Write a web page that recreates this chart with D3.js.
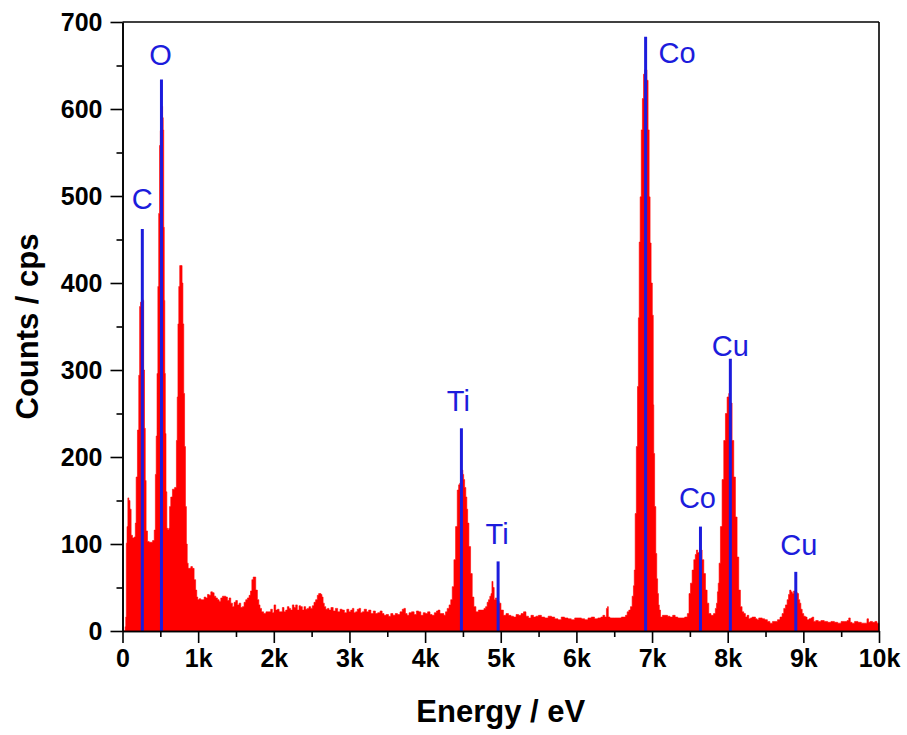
<!DOCTYPE html>
<html>
<head>
<meta charset="utf-8">
<title>EDS spectrum</title>
<script src="https://cdn.jsdelivr.net/npm/d3@7"></script>
<style>
  html, body { margin: 0; padding: 0; background: #fff; }
  svg { display: block; font-family: "Liberation Sans", Arial, sans-serif; }
</style>
</head>
<body>
<svg id="chart" width="907" height="735"></svg>
<script>
// Spectrum as [energy (eV), counts (cps)] pairs, split by energy range.
const spectrumLow = [
  [0,0],[30,0],[40,5],[46,16],[55,101],[65,120],[77,153],[90,150],[108,140],[120,110],
  [143,107],[165,108],[174,124],[187,177],[208,231],[222,294],[231,373],[245,378],[262,382],
  [275,380],[285,300],[297,233],[305,173],[319,115],[341,103],[363,102],[385,102],[410,104],
  [429,116],[440,180],[451,224],[462,296],[473,396],[484,480],[495,558],[505,575],[515,595],
  [526,603],[535,590],[542,576],[548,464],[556,380],[562,296],[570,227],[580,160],[592,118],
  [605,116],[618,118],[627,143],[649,154],[671,163],[706,165],[719,219],[728,269],[738,353],
  [750,396],[763,420],[781,420],[794,400],[803,353],[816,273],[825,212],[839,143],[850,100],
  [861,78],[875,72],[892,72],[914,74],[935,72],[958,59],[975,47],[988,39]
];
const spectrumMid = [
  [1002,36],[1024,37],[1046,36],[1068,36],[1090,39],[1112,38],[1134,42],[1156,41],[1178,45],
  [1200,44],[1222,40],[1244,38],[1266,36],[1288,34],[1310,38],[1332,40],[1354,40],[1376,39],
  [1398,35],[1420,38],[1442,32],[1464,28],[1486,33],[1508,35],[1530,30],[1552,32],[1574,27],
  [1596,28],[1618,33],[1640,36],[1662,38],[1684,41],[1700,46],[1720,59],[1735,62],[1750,62],
  [1772,47],[1794,36],[1810,30],[1825,26],[1850,22],[1882,20],[1910,22],[1948,22],[1970,25],
  [1992,21],[2014,30],[2036,24],[2060,25],[2080,22],[2102,22],[2124,27],[2146,22],[2168,24],
  [2190,28],[2212,26],[2234,24],[2256,30],[2278,27],[2300,30],[2322,24],[2344,29],[2366,28],
  [2388,24],[2410,28],[2432,25],[2454,26],[2476,28],[2498,26],[2520,29],[2542,33],[2564,36],
  [2586,41],[2600,43],[2617,43],[2630,42],[2643,39],[2660,32],[2674,28],[2700,25],[2720,26],
  [2740,24],[2770,27],[2800,23],[2828,26],[2860,22],[2890,25],[2916,24],[2950,21],[2980,25],
  [3004,22],[3030,24],[3048,26],[3070,21],[3092,22],[3115,25],[3136,26],[3160,21],[3180,22],
  [3210,25],[3240,22],[3268,24],[3300,20],[3330,23],[3356,20],[3390,21],[3420,23],[3444,20],
  [3470,18],[3500,19],[3532,17],[3560,20],[3590,18],[3620,20],[3650,19],[3686,22],[3710,25],
  [3730,26],[3750,20],[3774,18],[3800,21],[3840,22],[3870,19],[3900,23],[3928,22],[3960,18],
  [3990,21],[4016,20],[4050,22],[4080,19],[4104,18],[4140,21],[4160,23],[4183,24],[4210,20],
  [4236,20],[4260,18],[4280,22],[4304,26]
];
const spectrumTi = [
  [4330,30],[4348,36],[4370,51],[4392,82],[4414,120],[4436,162],[4450,168],[4467,170],
  [4480,180],[4493,185],[4505,180],[4515,174],[4530,165],[4546,154],[4557,140],[4568,124],
  [4590,97],[4612,66],[4634,39],[4656,28],[4687,22],[4722,24],[4766,24],[4790,26],[4810,28],
  [4830,33],[4846,36],[4865,40],[4877,43],[4890,57],[4905,50],[4921,36],[4940,38],[4952,36],
  [4970,34],[4987,32],[5018,24],[5053,18],[5085,20],[5119,18],[5150,17],[5185,16],[5220,19],
  [5251,18],[5285,20],[5317,22],[5350,17],[5383,15],[5415,18],[5449,16],[5480,17],[5515,18],
  [5560,16],[5603,15],[5650,17],[5691,16],[5735,14],[5779,13],[5820,16],[5867,15],[5910,14],
  [5955,13],[6000,15],[6043,15],[6090,14],[6131,13],[6175,15],[6219,16],[6260,14],[6307,15],
  [6340,16],[6360,18],[6390,16],[6404,26],[6418,28],[6426,16],[6460,15],[6484,15],[6528,15],
  [6572,15],[6616,16]
];
const spectrumHigh = [
  [6638,16],[6660,18],[6682,22],[6704,24],[6726,28],[6748,40],[6760,52],[6770,70],[6784,135],
  [6801,212],[6814,281],[6825,360],[6836,447],[6850,499],[6865,576],[6880,612],[6895,640],
  [6910,645],[6925,645],[6940,633],[6955,576],[6968,499],[6980,446],[6995,400],[7012,363],
  [7020,260],[7025,204],[7043,143],[7056,89],[7068,60],[7079,43],[7090,30],[7101,24],[7123,16],
  [7150,18],[7189,18],[7220,17],[7255,16],[7290,18],[7321,16],[7360,15],[7409,15],[7453,16],
  [7480,20],[7497,43],[7519,55],[7541,70],[7563,82],[7580,88],[7594,93],[7612,90],[7629,91],
  [7651,93],[7673,82],[7695,66],[7717,47],[7739,32],[7761,20],[7797,18],[7828,20],[7845,26],
  [7858,32],[7870,45],[7880,55],[7893,78],[7915,120],[7937,174],[7959,219],[7981,250],
  [8003,269],[8025,273],[8047,262],[8069,219],[8091,177],[8113,131],[8135,85],[8157,47],
  [8179,28],[8201,22],[8223,20],[8245,16],[8267,18],[8290,14],[8311,15],[8334,16],[8355,16],
  [8380,14],[8399,13],[8420,15],[8443,15],[8470,14],[8509,13],[8540,11],[8575,9],[8610,11],
  [8641,11],[8675,13],[8708,16],[8730,20],[8752,26],[8775,30],[8796,36],[8812,42],[8827,47],
  [8845,45],[8862,43],[8880,46],[8897,45],[8915,44],[8928,43],[8945,36],[8959,32],[8975,25],
  [8994,20],[9015,17],[9038,16],[9060,13],[9090,14],[9110,15],[9126,16],[9148,11],[9180,12],
  [9214,11],[9250,12],[9302,11],[9340,10],[9390,11],[9430,10],[9478,9],[9520,11],[9566,11],
  [9590,12],[9610,15],[9630,10],[9654,9],[9700,11],[9742,10],[9790,9],[9830,9],[9852,14],
  [9870,10],[9896,11],[9930,10],[9962,11],[9984,9],[10000,9]
];

// Element marker lines: name, energy (eV), line height (cps).
const elements = ["C", "O", "Ti", "Ti", "Co", "Co", "Cu", "Cu"];
const lineEnergy = [262, 515, 4480, 4965, 6915, 7640, 8035, 8900];
const lineHeight = [462, 634, 233, 80, 683, 120, 313, 68];

// Axis ticks.
const xTicks = [0,1000,2000,3000,4000,5000,6000,7000,8000,9000,10000];
const xTickLabels = ["0","1k","2k","3k","4k","5k","6k","7k","8k","9k","10k"];
const xMinorTicks = [500,1500,2500,3500,4500,5500,6500,7500,8500,9500];
const yTicks = [0,100,200,300,400,500,600,700];
const yMinorTicks = [50,150,250,350,450,550,650];

// Label placement relative to each marker line's top: [dx, dy, anchor].
const labelPlacement = [
  [0,-20,"middle"],[-1,-14,"middle"],[-3,-17,"middle"],[-1,-17,"middle"],
  [13,26,"start"],[-3,-19,"middle"],[0,-3,"middle"],[3,-17,"middle"]
];

const spectrum = spectrumLow.concat(spectrumMid, spectrumTi, spectrumHigh);

const svg = d3.select("#chart");
const margin = { left: 122.5, right: 28, top: 22, bottom: 104 };
const W = 907, H = 735;

const x = d3.scaleLinear().domain([0, 10000]).range([margin.left, W - margin.right]);
const y = d3.scaleLinear().domain([0, 700]).range([H - margin.bottom, margin.top]);

const red = "#ff0000";
const blue = "#1c1cdc";

// Spectrum fill, drawn as channel steps
const area = d3.area()
  .x(d => x(d[0]))
  .y0(y(0))
  .y1(d => y(d[1]))
  .curve(d3.curveStep);

svg.append("path")
  .datum(spectrum)
  .attr("d", area)
  .attr("fill", red)
  .attr("stroke", red)
  .attr("stroke-width", 0.6);

// Element marker lines and labels
const markers = elements.map((name, i) => ({
  name, e: lineEnergy[i], h: lineHeight[i], place: labelPlacement[i]
}));

svg.append("g").selectAll("line")
  .data(markers)
  .join("line")
  .attr("x1", d => x(d.e)).attr("x2", d => x(d.e))
  .attr("y1", y(0)).attr("y2", d => y(d.h))
  .attr("stroke", blue)
  .attr("stroke-width", 3);

svg.append("g").selectAll("text")
  .data(markers)
  .join("text")
  .attr("x", d => x(d.e) + d.place[0])
  .attr("y", d => y(d.h) + d.place[1])
  .attr("text-anchor", d => d.place[2])
  .attr("fill", blue)
  .attr("font-size", 29)
  .text(d => d.name);

// Axes
const xAxis = d3.axisBottom(x)
  .tickValues(xTicks)
  .tickFormat((d, i) => xTickLabels[i])
  .tickSize(12)
  .tickPadding(6)
  .tickSizeOuter(0);
const xMinor = d3.axisBottom(x).tickValues(xMinorTicks).tickFormat("").tickSize(6).tickSizeOuter(0);

const yAxis = d3.axisLeft(y)
  .tickValues(yTicks)
  .tickSize(12)
  .tickPadding(8)
  .tickSizeOuter(0);
const yMinor = d3.axisLeft(y).tickValues(yMinorTicks).tickFormat("").tickSize(6).tickSizeOuter(0);

function styleAxis(g) {
  g.select(".domain").attr("stroke", "#000").attr("stroke-width", 1.6);
  g.selectAll(".tick line").attr("stroke", "#000").attr("stroke-width", 1.6);
  g.selectAll(".tick text")
    .attr("fill", "#000")
    .attr("font-size", 25)
    .attr("font-weight", "bold")
    .attr("font-family", "'Liberation Sans', Arial, sans-serif");
}

svg.append("g").attr("transform", `translate(0,${y(0)})`).call(xMinor).call(styleAxis);
svg.append("g").attr("transform", `translate(0,${y(0)})`).call(xAxis).call(styleAxis);
svg.append("g").attr("transform", `translate(${x(0)},0)`).call(yMinor).call(styleAxis);
svg.append("g").attr("transform", `translate(${x(0)},0)`).call(yAxis).call(styleAxis);

// Top and right frame lines
svg.append("line")
  .attr("x1", x(0)).attr("x2", x(10000)).attr("y1", y(700)).attr("y2", y(700))
  .attr("stroke", "#000").attr("stroke-width", 1.6);
svg.append("line")
  .attr("x1", x(10000)).attr("x2", x(10000)).attr("y1", y(700)).attr("y2", y(0))
  .attr("stroke", "#000").attr("stroke-width", 1.6);

// Axis titles
svg.append("text")
  .attr("x", (x(0) + x(10000)) / 2)
  .attr("y", 722)
  .attr("text-anchor", "middle")
  .attr("font-size", 31)
  .attr("font-weight", "bold")
  .text("Energy / eV");

svg.append("text")
  .attr("transform", `translate(38,${(y(0) + y(700)) / 2}) rotate(-90)`)
  .attr("text-anchor", "middle")
  .attr("font-size", 31)
  .attr("font-weight", "bold")
  .text("Counts / cps");
</script>
</body>
</html>
